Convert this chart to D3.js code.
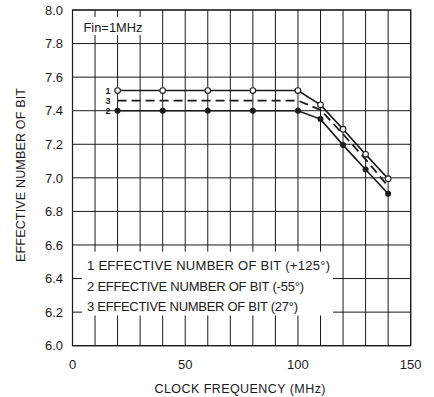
<!DOCTYPE html>
<html>
<head>
<meta charset="utf-8">
<script src="https://cdn.jsdelivr.net/npm/d3@7/dist/d3.min.js"></script>
<style>
  html, body { margin: 0; padding: 0; background: #fff; }
  svg { display: block; font-family: "Liberation Sans", Arial, Helvetica, sans-serif; }
</style>
</head>
<body>
<svg id="chart" width="434" height="397"></svg>
<script>
// Clock frequency sweep points (MHz)
const clockFreq = [20, 40, 60, 80, 100, 110, 120, 130, 140];
// Effective number of bits at each temperature
const enobHot  = [7.52, 7.52, 7.52, 7.52, 7.52, 7.435, 7.29, 7.14, 6.995]; // +125°
const enobCold = [7.40, 7.40, 7.40, 7.40, 7.40, 7.35, 7.195, 7.05, 6.905]; // -55°
const enobRoom = [7.46, 7.46, 7.46, 7.46, 7.46, 7.405, 7.26, 7.11, 6.95];  // 27°

const seriesIds = ["1", "2", "3"];
const legendLabels = [
  "1  EFFECTIVE  NUMBER  OF  BIT  (+125°)",
  "2  EFFECTIVE  NUMBER  OF  BIT  (-55°)",
  "3  EFFECTIVE  NUMBER  OF  BIT  (27°)"
];
const xTickValues = [0, 50, 100, 150];
const yTickValues = [6.0, 6.2, 6.4, 6.6, 6.8, 7.0, 7.2, 7.4, 7.6, 7.8, 8.0];
const xGridValues = d3.range(0, 151, 10);
const noteText = "Fin=1MHz";
const xTitle = "CLOCK  FREQUENCY  (MHz)";
const yTitle = "EFFECTIVE  NUMBER  OF  BIT";

const svg = d3.select("#chart");
const ink = "#1a1a1a";

const x = d3.scaleLinear().domain([0, 150]).range([72.5, 410.7]);
const y = d3.scaleLinear().domain([6.0, 8.0]).range([345.7, 10]);

const grid = svg.append("g");
// vertical grid
grid.selectAll("line.v").data(xGridValues).join("line")
  .attr("x1", d => x(d)).attr("x2", d => x(d))
  .attr("y1", y(6.0)).attr("y2", y(8.0))
  .attr("stroke", ink).attr("stroke-width", 1);
// horizontal grid
grid.selectAll("line.h").data(yTickValues).join("line")
  .attr("x1", x(0)).attr("x2", x(150))
  .attr("y1", d => y(d)).attr("y2", d => y(d))
  .attr("stroke", ink).attr("stroke-width", 1);

// Y tick labels
svg.append("g").selectAll("text").data(yTickValues).join("text")
  .attr("x", x(0) - 9.5).attr("y", d => y(d))
  .attr("dy", "0.36em")
  .attr("text-anchor", "end")
  .attr("font-size", 13)
  .attr("fill", ink)
  .text(d => d3.format(".1f")(d));

// X tick labels
svg.append("g").selectAll("text").data(xTickValues).join("text")
  .attr("x", d => x(d)).attr("y", 368.5)
  .attr("text-anchor", "middle")
  .attr("font-size", 13)
  .attr("fill", ink)
  .text(d => d);

// Axis titles
svg.append("text")
  .attr("x", 240).attr("y", 392.5)
  .attr("text-anchor", "middle")
  .attr("font-size", 12.5)
  .attr("textLength", 171).attr("lengthAdjust", "spacing")
  .attr("fill", ink)
  .text(xTitle);
svg.append("text")
  .attr("transform", "translate(24.5,175) rotate(-90)")
  .attr("text-anchor", "middle")
  .attr("font-size", 12.5)
  .attr("textLength", 174).attr("lengthAdjust", "spacing")
  .attr("fill", ink)
  .text(yTitle);

// Condition note with white backing
svg.append("rect")
  .attr("x", 80).attr("y", 17).attr("width", 67).attr("height", 18)
  .attr("fill", "#fff");
svg.append("text")
  .attr("x", 83.5).attr("y", 31.5)
  .attr("font-size", 13)
  .attr("textLength", 59).attr("lengthAdjust", "spacingAndGlyphs")
  .attr("fill", ink)
  .text(noteText);

// Legend panel
const legendTop = y(6.56), legendBottom = y(6.18);
svg.append("rect")
  .attr("x", 82).attr("y", legendTop)
  .attr("width", 333 - 82).attr("height", legendBottom - legendTop)
  .attr("fill", "#fff");
svg.append("g").selectAll("text").data(legendLabels).join("text")
  .attr("x", 87).attr("y", (d, i) => 270 + i * 20.5)
  .attr("font-size", 13)
  .attr("textLength", (d, i) => [243, 217, 211][i]).attr("lengthAdjust", "spacing")
  .attr("fill", ink)
  .text(d => d);

// Frame
svg.append("rect")
  .attr("x", x(0)).attr("y", y(8.0))
  .attr("width", x(150) - x(0)).attr("height", y(6.0) - y(8.0))
  .attr("fill", "none").attr("stroke", ink).attr("stroke-width", 1.2);

// Curves
const line = d3.line().x((d, i) => x(clockFreq[i])).y(d => y(d));
svg.append("path").datum(enobRoom).attr("d", line)
  .attr("fill", "none").attr("stroke", ink).attr("stroke-width", 1.8)
  .attr("stroke-dasharray", "9,5");
svg.append("path").datum(enobCold).attr("d", line)
  .attr("fill", "none").attr("stroke", ink).attr("stroke-width", 1.6);
svg.append("path").datum(enobHot).attr("d", line)
  .attr("fill", "none").attr("stroke", ink).attr("stroke-width", 1.6);

// Markers
svg.append("g").selectAll("circle").data(enobCold).join("circle")
  .attr("cx", (d, i) => x(clockFreq[i])).attr("cy", d => y(d))
  .attr("r", 3).attr("fill", ink);
svg.append("g").selectAll("circle").data(enobHot).join("circle")
  .attr("cx", (d, i) => x(clockFreq[i])).attr("cy", d => y(d))
  .attr("r", 2.8).attr("fill", "#fff").attr("stroke", ink).attr("stroke-width", 1.1);

// Curve ids beside the first points
const firstVals = [enobHot[0], enobCold[0], enobRoom[0]];
svg.append("g").selectAll("text").data(seriesIds).join("text")
  .attr("x", x(clockFreq[0]) - 7).attr("y", (d, i) => y(firstVals[i]))
  .attr("dy", "0.35em")
  .attr("text-anchor", "end")
  .attr("font-size", 9)
  .attr("font-weight", "bold")
  .attr("fill", ink)
  .text(d => d);
</script>
</body>
</html>
